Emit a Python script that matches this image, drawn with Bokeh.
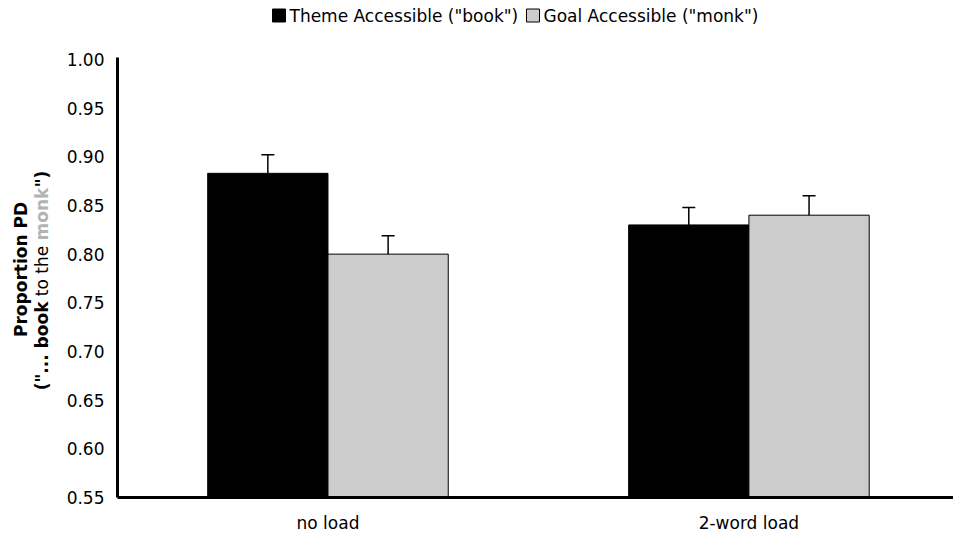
from math import pi
from bokeh.plotting import figure
from bokeh.layouts import column, row
from bokeh.models import (Range1d, FixedTicker, NumeralTickFormatter, Whisker, TeeHead,
                          ColumnDataSource)
from bokeh.core.properties import value
from bokeh.embed import file_html
from bokeh.resources import INLINE

# ---- data ----
conditions = ["no load", "2-word load"]
theme_vals = [0.883, 0.830]
goal_vals = [0.800, 0.840]
theme_err = [0.019, 0.018]
goal_err = [0.019, 0.020]
y_ticks = [0.55, 0.60, 0.65, 0.70, 0.75, 0.80, 0.85, 0.90, 0.95, 1.00]
series_names = ['Theme Accessible ("book")', 'Goal Accessible ("monk")']
series_colors = ["black", "#cccccc"]

FONT = "DejaVu Sans"
FS = 17
FS_TITLE = 17
BAR_W = 1 / 3.5          # two bars per group, 150% gap

W, H = 953, 537
TOP_H = 40               # legend strip
LEFT_W = 55              # y-title strip
FRAME_TOP, FRAME_BOTTOM = 57, 497


def blank(width, height, x_rng, y_rng):
    f = figure(width=width, height=height, x_range=x_rng, y_range=y_rng,
               output_backend="svg", toolbar_location=None,
               x_axis_type=None, y_axis_type=None, min_border=0)
    f.outline_line_color = None
    f.xgrid.visible = False
    f.ygrid.visible = False
    return f


# ---- main chart ----
centers = [i + 0.5 for i in range(len(conditions))]
theme_x = [c - BAR_W / 2 for c in centers]
goal_x = [c + BAR_W / 2 for c in centers]

p = figure(width=W - LEFT_W, height=H - TOP_H,
           x_range=Range1d(0, 1.986), y_range=Range1d(0.55, 1.002),
           output_backend="svg", toolbar_location=None,
           min_border_left=117 - LEFT_W, min_border_right=0,
           min_border_top=FRAME_TOP - TOP_H, min_border_bottom=H - FRAME_BOTTOM)
p.outline_line_color = None
p.xgrid.visible = False
p.ygrid.visible = False

theme_src = ColumnDataSource(dict(x=theme_x, top=theme_vals,
                                  upper=[v + e for v, e in zip(theme_vals, theme_err)]))
goal_src = ColumnDataSource(dict(x=goal_x, top=goal_vals,
                                 upper=[v + e for v, e in zip(goal_vals, goal_err)]))

p.vbar(x="x", top="top", bottom=0.55, width=BAR_W, source=theme_src,
       fill_color=series_colors[0], line_color="black", line_width=1)
p.vbar(x="x", top="top", bottom=0.55, width=BAR_W, source=goal_src,
       fill_color=series_colors[1], line_color="black", line_width=1)

for src in (theme_src, goal_src):
    p.add_layout(Whisker(base="x", upper="upper", lower="top", source=src,
                         line_color="black", line_width=1.5,
                         upper_head=TeeHead(size=13, line_color="black", line_width=1.5),
                         lower_head=None, level="overlay"))

for ax in (p.xaxis[0], p.yaxis[0]):
    ax.axis_line_width = 3
    ax.axis_line_color = "black"
    ax.major_tick_line_color = None
    ax.minor_tick_line_color = None
    ax.major_tick_out = 0
    ax.major_tick_in = 0
    ax.major_label_text_font = FONT
    ax.major_label_text_font_size = f"{FS}px"
    ax.major_label_text_color = "black"

p.yaxis.ticker = FixedTicker(ticks=y_ticks)
p.yaxis.formatter = NumeralTickFormatter(format="0.00")
p.yaxis.major_label_standoff = 13

p.xaxis.ticker = FixedTicker(ticks=centers)
p.xaxis.major_label_overrides = {c: n for c, n in zip(centers, conditions)}
p.xaxis.major_label_standoff = 15

# approximate DejaVu Sans advance widths (em) used to lay out the text runs
adv_reg = {" ": .318, "T": .611, "h": .634, "e": .615, "m": .974, "A": .684, "c": .550,
           "s": .521, "i": .278, "b": .635, "l": .278, "(": .390, '"': .460, "o": .612,
           "k": .579, ")": .390, "G": .775, "a": .613, "n": .634, "t": .392, ".": .318}
adv_bold = {" ": .348, "(": .457, '"': .521, ".": .380, "b": .716, "o": .687, "k": .665,
            "m": 1.058, "n": .712, ")": .457}


def text_w(txt, size, bold=False):
    table = adv_bold if bold else adv_reg
    return sum(table[ch] for ch in txt) * size


# ---- legend strip (pixel coordinates, y downwards) ----
top = blank(W, TOP_H, Range1d(0, W), Range1d(TOP_H, 0))
SQ = 13
lx = 272
ly = 15
for name, color in zip(series_names, series_colors):
    top.rect(x=lx + SQ / 2, y=ly, width=SQ, height=SQ, width_units="screen",
             height_units="screen", fill_color=color, line_color="black", line_width=1)
    top.text(x=[lx + SQ + 4], y=[ly], text=[name], text_font=value(FONT),
             text_font_size=f"{FS}px", text_align="left", text_baseline="middle",
             text_color="black")
    lx += SQ + 4 + text_w(name, FS) + 8

# ---- y-title strip; its frame lines up with the chart's frame, so the
# y range is given in page pixels (y downwards) over that frame ----
left = blank(LEFT_W, H - TOP_H, Range1d(0, LEFT_W), Range1d(FRAME_BOTTOM, FRAME_TOP))
left.text(x=[20], y=[269], text=["Proportion PD"], angle=pi / 2,
          text_font=value(FONT), text_font_style="bold", text_font_size=f"{FS_TITLE}px",
          text_align="center", text_baseline="middle", text_color="black")

# second line: runs of mixed weight/colour; spaces between runs are gaps
segments = [('("...', True, "black"), (" ", True, None), ("book", True, "black"),
            (" ", False, None), ("to the", False, "black"), (" ", False, None),
            ("monk", True, "#b3b3b3"), ('")', True, "black")]
seg_widths = [text_w(t, FS_TITLE, b) for t, b, _ in segments]
pos = 280 + sum(seg_widths) / 2
for (txt, bold, color), w in zip(segments, seg_widths):
    if color is not None:
        left.text(x=[41], y=[pos], text=[txt], angle=pi / 2,
                  text_font=value(FONT), text_font_style="bold" if bold else "normal",
                  text_font_size=f"{FS_TITLE}px",
                  text_align="left", text_baseline="middle", text_color=color)
    pos -= w

layout = column(top, row(left, p, spacing=0), spacing=0)
open("out.html", "w").write(file_html(layout, INLINE))
